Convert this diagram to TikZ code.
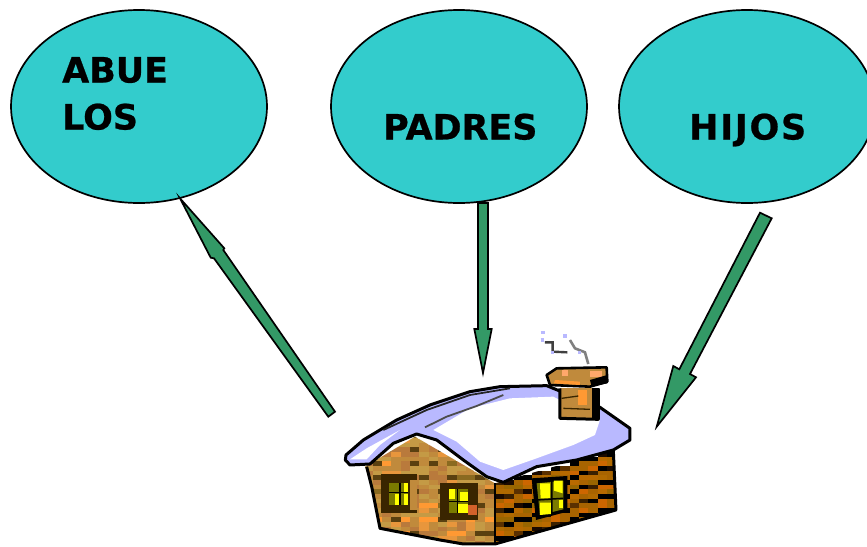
\documentclass[tikz,border=0pt]{standalone}
\usepackage{fontspec}
\setmainfont{DejaVu Sans}[BoldFeatures={FakeBold=0.7}]
\usetikzlibrary{shapes.geometric}
\definecolor{tealfill}{HTML}{33CCCC}
\definecolor{arrowgreen}{HTML}{339966}
\definecolor{snowshade}{HTML}{B9B9FF}
\definecolor{woodl}{HTML}{C08A3C}
\definecolor{woodo}{HTML}{FF9933}
\definecolor{wooddk}{HTML}{3A2500}
\definecolor{winy}{HTML}{FFFF00}
\definecolor{winol}{HTML}{7A7A00}
% left wall palette
\definecolor{wlL0}{HTML}{C08A3C}\definecolor{wlL1}{HTML}{C49A45}\definecolor{wlL2}{HTML}{C49A45}
\definecolor{wlL3}{HTML}{B97A3C}\definecolor{wlL4}{HTML}{E8963C}\definecolor{wlL5}{HTML}{C08A3C}
\definecolor{wlD0}{HTML}{C08A3C}\definecolor{wlD1}{HTML}{5A4010}\definecolor{wlD2}{HTML}{8A6A20}
\definecolor{wlD3}{HTML}{FF9933}\definecolor{wlD4}{HTML}{5A4010}\definecolor{wlD5}{HTML}{B97A3C}
% right wall palette
\definecolor{wrL0}{HTML}{A86400}\definecolor{wrL1}{HTML}{B86A00}\definecolor{wrL2}{HTML}{996600}
\definecolor{wrL3}{HTML}{B06A00}\definecolor{wrL4}{HTML}{A86400}\definecolor{wrL5}{HTML}{CC6600}
\definecolor{wrD0}{HTML}{000000}\definecolor{wrD1}{HTML}{1A0A00}\definecolor{wrD2}{HTML}{3A2000}
\definecolor{wrD3}{HTML}{000000}\definecolor{wrD4}{HTML}{5A3000}\definecolor{wrD5}{HTML}{000000}
\tikzset{
  bubble/.style={ellipse,draw=black,line width=1.7pt,fill=tealfill,minimum width=256pt,minimum height=193pt,inner sep=0pt},
  lab/.style={font=\bfseries\fontsize{34.9}{35}\selectfont,anchor=base west,inner sep=0pt},
  blockarrow/.style={draw=black,line width=1.7pt,fill=arrowgreen,line join=miter},
  outl/.style={draw=black,line width=3pt,line join=round}
}
\begin{document}
\begin{tikzpicture}[x=1pt,y=-1pt]
\useasboundingbox (0,0) rectangle (867,546);
\node[bubble] (abuelos) at (139,106.5) {};
\node[bubble] (padres) at (459,106.5) {};
\node[bubble] (hijos) at (747,106.5) {};
\node[lab] (t1) at (62,82.5) {ABUE};
\node[lab] (t2) at (62,129.5) {LOS};
\node[lab] (t3) at (383,139.5) {PADRES};
\node[lab] (t4) at (689,139.5) {\addfontfeature{LetterSpace=5}HIJOS};
% arrows
\draw[blockarrow] (328.3,416.7) -- (335,411.7) -- (223.3,250) -- (224.3,248.3) -- (180,198.3) -- (210.7,257.7) -- (214,258.3) -- cycle;
\draw[blockarrow] (478,203) -- (488,203) -- (488,329) -- (491.7,329) -- (483,373) -- (474.3,329) -- (478,329) -- cycle;
\draw[blockarrow] (760,212.7) -- (771.7,218.3) -- (690,374) -- (696,377.3) -- (656.7,426.7) -- (673.3,366) -- (679.3,369.3) -- cycle;
% house
\begin{scope}[shift={(330,320)},x=0.3333pt,y=-0.3333pt]
\pgfmathsetseed{7}
% left wall
\begin{scope}
\clip (105,440) -- (255,350) -- (495,490) -- (495,672) -- (400,672) -- (150,625) -- (125,500) -- cycle;
\foreach \i in {0,...,14}{\foreach \j in {0,...,24}{
  \pgfmathrandominteger{\rr}{0}{5}\pgfmathtruncatemacro{\mm}{mod(\j,3)}
  \ifnum\mm=0 \def\cc{wlD\rr}\else\def\cc{wlL\rr}\fi
  \fill[\cc] (100+28*\i,340+14*\j) rectangle +(28.5,14.5);
}}
\end{scope}
% right wall
\begin{scope}
\clip (495,490) -- (850,390) -- (858,570) -- (495,672) -- cycle;
\foreach \i in {0,...,13}{\foreach \j in {0,...,22}{
  \pgfmathrandominteger{\rr}{0}{5}\pgfmathtruncatemacro{\mm}{mod(\j,3)}
  \pgfmathtruncatemacro{\ss}{int(0.56*\i)}
  \ifnum\mm=0 \def\cc{wrD\rr}\else\def\cc{wrL\rr}\fi
  \fill[\cc] (495+28*\i,480+14*\j-14*\ss) rectangle +(28.5,14.5);
}}
\end{scope}
% left window 1
\fill[wooddk] (152,462) rectangle (262,580);
\fill[winol] (178,488) rectangle (235,555);
\fill[winy] (222,488) rectangle (235,516);
\fill[winy] (196,523) rectangle (208,555);
\fill[winy] (222,523) rectangle (235,555);
\draw[black,line width=1.5pt] (210,488) -- (210,555) (178,518) -- (235,518);
\fill[woodl] (240,480) rectangle (262,570);
% left window 2
\fill[wooddk] (330,490) rectangle (445,600);
\fill[winol] (357,508) rectangle (414,580);
\fill[winy] (357,508) rectangle (374,537);
\fill[winy] (390,515) rectangle (414,542);
\fill[winy] (385,553) rectangle (414,580);
\draw[black,line width=1.5pt] (382,508) -- (382,580) (357,545) -- (414,545);
\fill[woodl!70!red] (414,555) rectangle (442,585);
% right window
\fill[black] (605,475) -- (712,468) -- (712,575) -- (618,600) -- cycle;
\fill[winol] (620,490) -- (700,482) -- (700,568) -- (630,585) -- cycle;
\fill[winy] (630,490) -- (660,490) -- (660,535) -- (632,535) -- cycle;
\fill[winy] (672,482) -- (698,482) -- (698,520) -- (672,512) -- cycle;
\fill[winy] (630,548) -- (663,548) -- (663,582) -- (630,585) -- cycle;
\fill[winy] (686,540) -- (698,540) -- (698,565) -- (686,565) -- cycle;
\draw[black,line width=1.5pt] (666,482) -- (666,585) (620,540) -- (700,535);
% wall outline
\draw[outl] (110,440) -- (125,500) -- (150,625) -- (330,660) -- (400,672) -- (495,672) -- (858,570) -- (850,390);
\draw[black,line width=2.6pt] (495,490) -- (495,672);
% roof
\filldraw[outl,fill=snowshade] (48,405) -- (100,360) -- (200,300) -- (300,255) -- (420,215) -- (510,200) -- (650,197) -- (810,262) -- (900,325) -- (900,360) -- (850,390) -- (740,420) -- (620,440) -- (520,487) -- (470,470) -- (400,420) -- (320,360) -- (260,342) -- (190,370) -- (120,432) -- (60,435) -- (46,420) -- cycle;
% snow highlight
\fill[white] (310,330) -- (420,265) -- (540,235) -- (670,230) -- (810,300) -- (795,345) -- (730,375) -- (620,415) -- (520,450) -- (450,425) -- (380,365) -- cycle;
\fill[white] (60,418) -- (110,385) -- (210,330) -- (150,375) -- (110,418) -- cycle;
% roof ridge lines
\draw[black!85,line width=1.8pt] (160,330) -- (290,270) -- (420,225) -- (540,205);
\draw[black!70,line width=1.8pt] (285,322) -- (350,290) -- (440,258) -- (520,225);
% chimney
\fill[woodl] (690,205) -- (805,205) -- (805,295) -- (690,295) -- cycle;
\fill[woodo] (745,210) rectangle (770,255);
\draw[wooddk,line width=1.3pt] (695,235) -- (745,228) (700,265) -- (780,268);
\fill[black] (785,205) rectangle (808,295);
\draw[outl] (690,205) -- (690,295) -- (805,298) -- (805,205);
\filldraw[draw=black,line width=2.6pt,line join=round,fill=woodl] (650,165) -- (680,145) -- (830,142) -- (832,185) -- (780,200) -- (660,195) -- cycle;
\fill[woodo] (675,180) -- (750,185) -- (750,195) -- (672,190) -- cycle;
\fill[woodo!60!pink] (695,150) rectangle (715,168);
\fill[woodo!60!pink] (780,152) rectangle (815,172);
\fill[black] (780,180) -- (832,165) -- (832,190) -- (785,200) -- cycle;
% smoke
\draw[black!75,line width=2.4pt] (645,67) -- (668,67) -- (668,95) -- (712,97);
\draw[black!50,line width=2.6pt] (720,60) -- (735,85) -- (765,97) -- (775,132);
\draw[snowshade,line width=3.4pt] (632,38) -- (644,38) (632,60) -- (642,60) (700,48) -- (712,48) (662,97) -- (672,97) (745,97) -- (752,97);
\end{scope}
\end{tikzpicture}
\end{document}
